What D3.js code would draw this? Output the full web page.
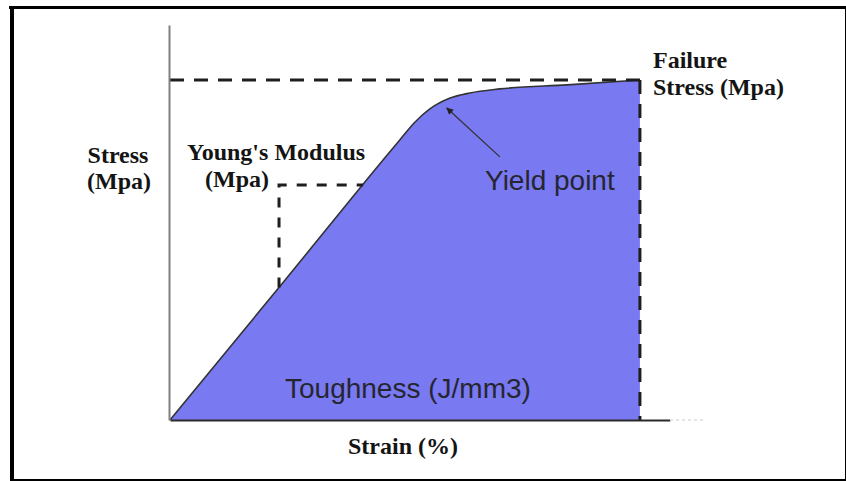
<!DOCTYPE html>
<html>
<head>
<meta charset="utf-8">
<script src="https://cdn.jsdelivr.net/npm/d3@7"></script>
<style>
  html, body { margin: 0; padding: 0; background: #fff; }
  .serif { font-family: "Liberation Serif", "Times New Roman", serif; font-weight: bold; font-size: 24px; fill: #141414; }
  .sans { font-family: "Liberation Sans", Arial, sans-serif; font-size: 28px; fill: #262630; }
</style>
</head>
<body>
<div id="chart"></div>
<script>
// stress-strain curve
const strain = [0, 2.45, 4.89, 5.21, 5.53, 5.96, 6.38, 7.02, 8.45, 10];
const stress = [0, 41.2, 82.4, 87.6, 91.5, 94.7, 96.2, 97.4, 98.6, 100];

// Young's modulus construction (corner, end on curve)
const modulusStrain = [2.32, 4.11];
const modulusStress = [39.0, 69.1];

// failure point
const failureStrain = 10;
const failureStress = 100;

// yield point arrow: [tail, head]
const arrowStrain = [7.02, 5.89];
const arrowStress = [77.4, 91.8];

const width = 846, height = 481;
const margin = {top: 25, right: 176, bottom: 61, left: 170};

const svg = d3.select("#chart")
  .append("svg")
    .attr("width", width)
    .attr("height", height);

// frame
svg.append("line").attr("x1", 9).attr("x2", 846).attr("y1", 7.5).attr("y2", 7.5)
  .attr("stroke", "#000").attr("stroke-width", 3);
svg.append("line").attr("x1", 12).attr("x2", 12).attr("y1", 6).attr("y2", 481)
  .attr("stroke", "#000").attr("stroke-width", 4);
svg.append("line").attr("x1", 10).attr("x2", 846).attr("y1", 480).attr("y2", 480)
  .attr("stroke", "#000").attr("stroke-width", 2);
svg.append("line").attr("x1", 845.5).attr("x2", 845.5).attr("y1", 6).attr("y2", 481)
  .attr("stroke", "#000").attr("stroke-width", 1);

// scales
const x = d3.scaleLinear()
  .domain([0, 10.64])
  .range([margin.left, width - margin.right]);

const y = d3.scaleLinear()
  .domain([0, 116.2])
  .range([height - margin.bottom, margin.top]);

const pts = strain.map((s, i) => ({x: s, y: stress[i]}));

// toughness area
const area = d3.area()
  .curve(d3.curveMonotoneX)
  .x(d => x(d.x))
  .y0(y(0))
  .y1(d => y(d.y));

svg.append("path")
  .datum(pts)
  .attr("d", area)
  .attr("fill", "#7979f2");

// curve outline
const line = d3.line()
  .curve(d3.curveMonotoneX)
  .x(d => x(d.x))
  .y(d => y(d.y));

svg.append("path")
  .datum(pts)
  .attr("d", line)
  .attr("fill", "none")
  .attr("stroke", "#333")
  .attr("stroke-width", 1.6);

// dashed lines
const dashed = (pairs, dash) => svg.append("path")
  .attr("d", d3.line().x(d => x(d[0])).y(d => y(d[1]))(pairs))
  .attr("fill", "none")
  .attr("stroke", "#1e1e1e")
  .attr("stroke-width", 3)
  .attr("stroke-dasharray", dash);

dashed([[0, failureStress], [failureStrain, failureStress]], "14,10");
dashed([[failureStrain, failureStress], [failureStrain, 0]], "14,10");
dashed([[modulusStrain[0], modulusStress[0]], [modulusStrain[0], modulusStress[1]], [modulusStrain[1], modulusStress[1]]], "10,10");

// axes
const xAxis = svg.append("g")
  .attr("transform", `translate(0,${y(0)})`)
  .call(d3.axisBottom(x).ticks(0).tickSizeOuter(0));
xAxis.select(".domain").attr("stroke", "#2a2a2a").attr("stroke-width", 2);

const yAxis = svg.append("g")
  .attr("transform", `translate(${x(0) - 1},0)`)
  .call(d3.axisLeft(y).ticks(0).tickSizeOuter(0));
yAxis.select(".domain").attr("stroke", "#808080").attr("stroke-width", 2);

// faint continuation of x axis
svg.append("line")
  .attr("x1", x(10.64)).attr("x2", x(11.4))
  .attr("y1", y(0)).attr("y2", y(0))
  .attr("stroke", "#e4e4e4").attr("stroke-width", 2).attr("stroke-dasharray", "3,3");

// yield arrow
svg.append("defs").append("marker")
  .attr("id", "head")
  .attr("viewBox", "0 0 10 10")
  .attr("refX", 9).attr("refY", 5)
  .attr("markerWidth", 9).attr("markerHeight", 7)
  .attr("markerUnits", "userSpaceOnUse")
  .attr("orient", "auto")
  .append("path")
    .attr("d", "M0,0L10,5L0,10Z")
    .attr("fill", "#222");

svg.append("line")
  .attr("x1", x(arrowStrain[0])).attr("y1", y(arrowStress[0]))
  .attr("x2", x(arrowStrain[1])).attr("y2", y(arrowStress[1]))
  .attr("stroke", "#333").attr("stroke-width", 1.3)
  .attr("marker-end", "url(#head)");

// labels
const label = (cls, tx, ty, txt, anchor) => svg.append("text")
  .attr("class", cls)
  .attr("x", tx).attr("y", ty)
  .attr("text-anchor", anchor || "start")
  .text(txt);

label("serif", 118, 163, "Stress", "middle");
label("serif", 119, 189, "(Mpa)", "middle");
label("serif", 187, 160, "Young's Modulus");
label("serif", 205, 187, "(Mpa)");
label("serif", 653, 68, "Failure");
label("serif", 653, 95, "Stress (Mpa)");
label("serif", 348, 454, "Strain (%)");
label("sans", 485, 190, "Yield point");
label("sans", 285, 398, "Toughness (J/mm3)");
</script>
</body>
</html>
